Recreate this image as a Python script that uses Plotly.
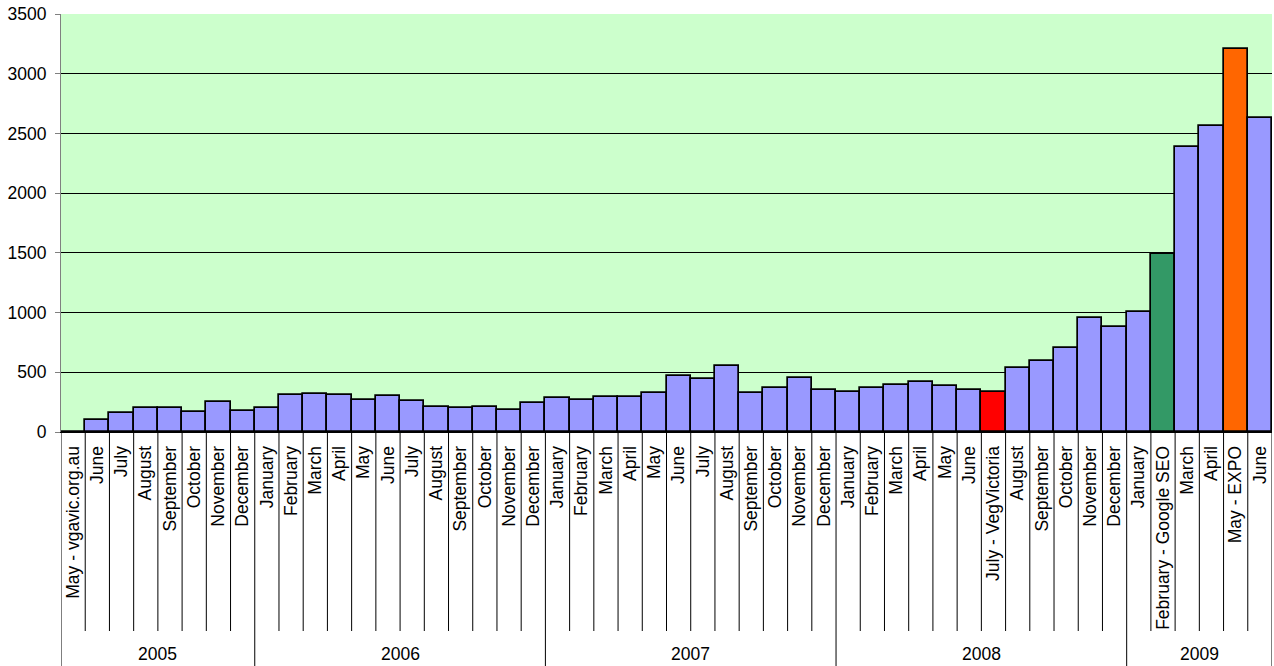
import plotly.graph_objects as go

# ---- data ----
years = ["2005", "2006", "2007", "2008", "2009"]
months_2005 = ["May - vgavic.org.au", "June", "July", "August", "September", "October", "November", "December"]
months_2006 = ["January", "February", "March", "April", "May", "June", "July", "August", "September", "October", "November", "December"]
months_2007 = ["January", "February", "March", "April", "May", "June", "July", "August", "September", "October", "November", "December"]
months_2008 = ["January", "February", "March", "April", "May", "June", "July - VegVictoria", "August", "September", "October", "November", "December"]
months_2009 = ["January", "February - Google SEO", "March", "April", "May - EXPO", "June"]

values_2005 = [0, 100, 160, 202, 202, 166, 250, 177]
values_2006 = [197, 312, 320, 306, 270, 303, 257, 211, 200, 208, 188, 244]
values_2007 = [284, 264, 292, 292, 328, 469, 444, 556, 323, 371, 455, 351]
values_2008 = [335, 371, 393, 418, 387, 348, 334, 539, 595, 702, 951, 882]
values_2009 = [1006, 1487, 2387, 2566, 3206, 2630]

y_ticks = [0, 500, 1000, 1500, 2000, 2500, 3000, 3500]

# ---- styles ----
base_color = "#9999FF"
highlight_colors = {
    "July - VegVictoria": "#FF0000",
    "February - Google SEO": "#339966",
    "May - EXPO": "#FF6600",
}
FONT = "Arial, Liberation Sans, sans-serif"
FS = 17.5

month_groups = [months_2005, months_2006, months_2007, months_2008, months_2009]
value_groups = [values_2005, values_2006, values_2007, values_2008, values_2009]

labels = [m for g in month_groups for m in g]
values = [v for g in value_groups for v in g]
xs = list(range(len(labels)))
colors = [highlight_colors.get(l, base_color) for l in labels]

fig = go.Figure(go.Bar(
    x=xs, y=values,
    marker=dict(color=colors, line=dict(color="black", width=1.7)),
    hovertext=labels,
))

PLOT_H = 666 - 14 - 234
sep_bottom = -199 / PLOT_H
div_bottom = -240 / PLOT_H

shapes = []
annotations = []
start = 0
boundaries = [-0.5]
for yr, g in zip(years, month_groups):
    n = len(g)
    for k in range(1, n):
        xb = start + k - 0.5
        shapes.append(dict(type="line", xref="x", yref="paper", x0=xb, x1=xb,
                           y0=0, y1=sep_bottom, line=dict(color="black", width=1)))
    annotations.append(dict(x=start + (n - 1) / 2, y=(432 - 654) / PLOT_H, xref="x", yref="paper",
                            text=yr, showarrow=False, yanchor="middle", xanchor="center",
                            font=dict(family=FONT, size=FS, color="black")))
    start += n
    boundaries.append(start - 0.5)

for xb in boundaries:
    shapes.append(dict(type="line", xref="x", yref="paper", x0=xb, x1=xb,
                       y0=0, y1=div_bottom, line=dict(color="black", width=1)))

fig.update_layout(
    width=1274, height=666,
    margin=dict(l=61, r=2, t=14, b=234),
    plot_bgcolor="#CCFFCC", paper_bgcolor="white",
    bargap=0, showlegend=False,
    font=dict(family=FONT, size=FS, color="black"),
    shapes=shapes, annotations=annotations,
)
fig.update_xaxes(
    range=[-0.5, len(labels) - 0.5],
    tickmode="array", tickvals=xs, ticktext=labels, tickangle=-90,
    ticks="", showgrid=False, zeroline=False,
    showline=True, linecolor="black", linewidth=1,
    ticklabelstandoff=6,
    tickfont=dict(family=FONT, size=FS, color="black"),
)
fig.update_yaxes(
    range=[0, 3500], tickmode="array", tickvals=y_ticks,
    ticks="outside", ticklen=5, tickcolor="#808080",
    showgrid=True, gridcolor="black", gridwidth=1,
    zeroline=False, showline=True, linecolor="#808080", linewidth=1,
    ticklabelstandoff=5,
    tickfont=dict(family=FONT, size=FS, color="black"),
)

fig.write_html(
    "out.html",
    config={"displayModeBar": False},
    post_script="document.body.style.margin='0';document.body.style.overflow='hidden';",
)
